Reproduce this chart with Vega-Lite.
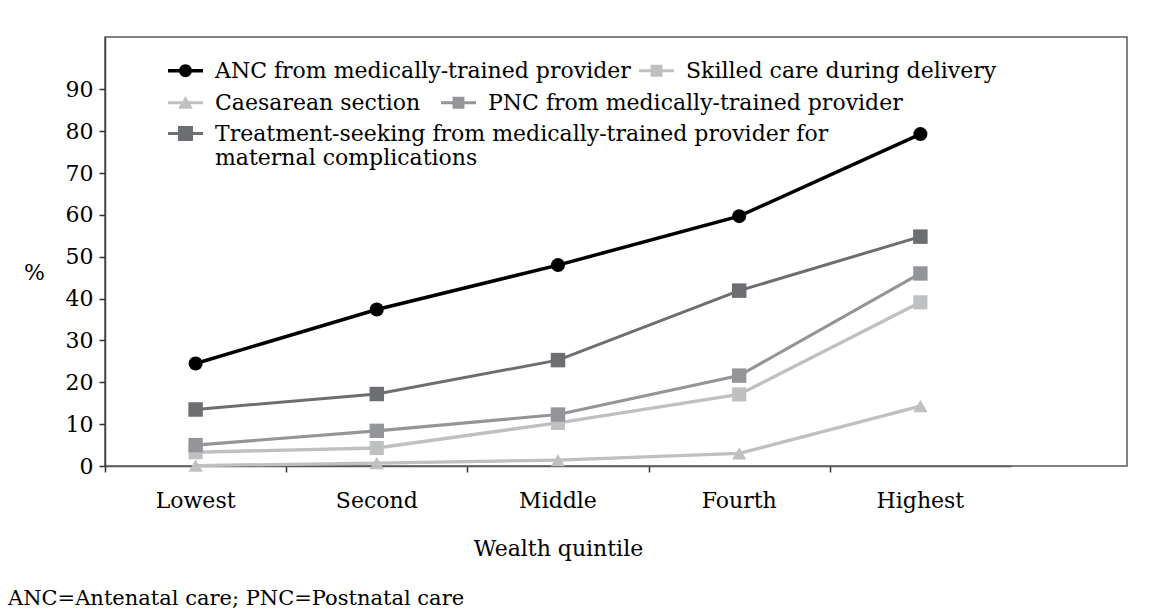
{
  "$schema": "https://vega.github.io/schema/vega-lite/v6.json",
  "width": 1022,
  "height": 429,
  "autosize": {"type": "none"},
  "padding": {"left": 105, "top": 37, "right": 35, "bottom": 147},
  "background": "white",
  "config": {
    "font": "DejaVu Serif",
    "view": {"stroke": "#5a5a5a", "strokeWidth": 1.5},
    "axis": {"grid": false, "labelFont": "DejaVu Serif", "titleFont": "DejaVu Serif"},
    "legend": {"labelFont": "DejaVu Serif"}
  },
  "title": {
    "text": "ANC=Antenatal care; PNC=Postnatal care",
    "orient": "bottom",
    "anchor": "start",
    "frame": "group",
    "dx": -97,
    "offset": 29,
    "fontSize": 21,
    "fontWeight": "normal",
    "font": "DejaVu Serif",
    "color": "black"
  },
  "data": {
    "values": [
      {"quintile": "Lowest", "series": "ANC from medically-trained provider", "value": 24.5},
      {"quintile": "Second", "series": "ANC from medically-trained provider", "value": 37.4},
      {"quintile": "Middle", "series": "ANC from medically-trained provider", "value": 48.0},
      {"quintile": "Fourth", "series": "ANC from medically-trained provider", "value": 59.7},
      {"quintile": "Highest", "series": "ANC from medically-trained provider", "value": 79.3},
      {"quintile": "Lowest", "series": "Skilled care during delivery", "value": 3.3},
      {"quintile": "Second", "series": "Skilled care during delivery", "value": 4.3},
      {"quintile": "Middle", "series": "Skilled care during delivery", "value": 10.3},
      {"quintile": "Fourth", "series": "Skilled care during delivery", "value": 17.1},
      {"quintile": "Highest", "series": "Skilled care during delivery", "value": 39.1},
      {"quintile": "Lowest", "series": "Caesarean section", "value": 0.1},
      {"quintile": "Second", "series": "Caesarean section", "value": 0.7},
      {"quintile": "Middle", "series": "Caesarean section", "value": 1.4},
      {"quintile": "Fourth", "series": "Caesarean section", "value": 3.0},
      {"quintile": "Highest", "series": "Caesarean section", "value": 14.3},
      {"quintile": "Lowest", "series": "PNC from medically-trained provider", "value": 5.0},
      {"quintile": "Second", "series": "PNC from medically-trained provider", "value": 8.4},
      {"quintile": "Middle", "series": "PNC from medically-trained provider", "value": 12.3},
      {"quintile": "Fourth", "series": "PNC from medically-trained provider", "value": 21.6},
      {"quintile": "Highest", "series": "PNC from medically-trained provider", "value": 46.0},
      {"quintile": "Lowest", "series": "Treatment-seeking from medically-trained provider for maternal complications", "value": 13.5},
      {"quintile": "Second", "series": "Treatment-seeking from medically-trained provider for maternal complications", "value": 17.2},
      {"quintile": "Middle", "series": "Treatment-seeking from medically-trained provider for maternal complications", "value": 25.3},
      {"quintile": "Fourth", "series": "Treatment-seeking from medically-trained provider for maternal complications", "value": 41.9},
      {"quintile": "Highest", "series": "Treatment-seeking from medically-trained provider for maternal complications", "value": 54.8}
    ]
  },
  "encoding": {
    "y": {
      "field": "value",
      "type": "quantitative",
      "scale": {"domain": [0, 102.5], "nice": false, "zero": true},
      "axis": {
        "values": [0, 10, 20, 30, 40, 50, 60, 70, 80, 90],
        "title": "%",
        "titleAngle": 0,
        "titleFontSize": 22,
        "titleFontWeight": "normal",
        "titleColor": "black",
        "titleAlign": "center",
        "titleBaseline": "middle",
        "titleX": -71,
        "titleY": 235,
        "labelFontSize": 22,
        "labelColor": "black",
        "labelPadding": 6,
        "tickSize": 6,
        "tickColor": "#303030",
        "tickWidth": 1.5,
        "domainColor": "#404040",
        "domainWidth": 1.5
      }
    }
  },
  "layer": [
    {
      "mark": {"type": "line"},
      "encoding": {
        "x": {
          "field": "quintile",
          "type": "ordinal",
          "sort": ["Lowest", "Second", "Middle", "Fourth", "Highest"],
          "scale": {"type": "band", "range": [0, 906], "paddingInner": 0, "paddingOuter": 0},
          "axis": {
            "orient": "bottom",
            "values": ["Lowest", "Second", "Middle", "Fourth"],
            "labels": false,
            "title": null,
            "tickBand": "extent",
            "tickSize": 6,
            "tickColor": "#303030",
            "tickWidth": 1.5,
            "domainColor": "#5a5a5a",
            "domainWidth": 1.5
          }
        },
        "color": {
          "field": "series",
          "type": "nominal",
          "scale": {
            "domain": ["ANC from medically-trained provider", "Skilled care during delivery", "Caesarean section", "PNC from medically-trained provider", "Treatment-seeking from medically-trained provider for maternal complications"],
            "range": ["#000000", "#bfc0c2", "#bfc0c2", "#939598", "#6d6e71"]
          },
          "legend": null
        },
        "strokeWidth": {
          "field": "series",
          "type": "nominal",
          "scale": {
            "domain": ["ANC from medically-trained provider", "Skilled care during delivery", "Caesarean section", "PNC from medically-trained provider", "Treatment-seeking from medically-trained provider for maternal complications"],
            "range": [3.5, 3, 3, 3, 3]
          },
          "legend": null
        }
      }
    },
    {
      "mark": {"type": "point", "filled": true, "opacity": 1, "strokeWidth": 0},
      "encoding": {
        "x": {
          "field": "quintile",
          "type": "ordinal",
          "sort": ["Lowest", "Second", "Middle", "Fourth", "Highest"],
          "axis": {
            "orient": "bottom",
            "title": "Wealth quintile",
            "titleFontSize": 22,
            "titleFontWeight": "normal",
            "titleColor": "black",
            "titleBaseline": "middle",
            "titleY": 82,
            "labelAngle": 0,
            "labelFontSize": 22,
            "labelColor": "black",
            "labelBaseline": "top",
            "labelPadding": 24,
            "ticks": false,
            "domain": false
          }
        },
        "color": {"field": "series", "type": "nominal", "legend": null},
        "shape": {
          "field": "series",
          "type": "nominal",
          "scale": {
            "domain": ["ANC from medically-trained provider", "Skilled care during delivery", "Caesarean section", "PNC from medically-trained provider", "Treatment-seeking from medically-trained provider for maternal complications"],
            "range": ["circle", "square", "triangle-up", "square", "square"]
          },
          "legend": null
        },
        "size": {
          "field": "series",
          "type": "nominal",
          "scale": {
            "domain": ["ANC from medically-trained provider", "Skilled care during delivery", "Caesarean section", "PNC from medically-trained provider", "Treatment-seeking from medically-trained provider for maternal complications"],
            "range": [196, 210, 256, 150, 300]
          },
          "legend": null
        }
      }
    },
    {
      "mark": {"type": "point", "filled": true, "opacity": 0, "size": 1225},
      "encoding": {
        "x": {"field": "quintile", "type": "ordinal", "sort": ["Lowest", "Second", "Middle", "Fourth", "Highest"], "axis": null},
        "color": {
          "field": "series", "type": "nominal",
          "legend": {
            "values": ["ANC from medically-trained provider", "Skilled care during delivery"],
            "title": null, "orient": "none", "legendX": 63, "legendY": 16, "direction": "horizontal",
            "columnPadding": 8, "symbolSize": 1225, "symbolStrokeWidth": 0, "symbolOpacity": 1,
            "labelFont": "DejaVu Serif", "labelFontSize": 22, "labelColor": "black",
            "labelOffset": 12, "labelLimit": 2000, "padding": 0
          }
        },
        "shape": {
          "field": "series", "type": "nominal",
          "scale": {
            "domain": ["ANC from medically-trained provider", "Skilled care during delivery", "Caesarean section", "PNC from medically-trained provider", "Treatment-seeking from medically-trained provider for maternal complications"],
            "range": [
              "M-1,-0.1 L1,-0.1 L1,0.1 L-1,0.1 Z M-0.37,0 A0.37,0.37 0 1,1 0.37,0 A0.37,0.37 0 1,1 -0.37,0 Z",
              "M-1,-0.085 L1,-0.085 L1,0.085 L-1,0.085 Z M-0.34,-0.34 L0.34,-0.34 L0.34,0.34 L-0.34,0.34 Z",
              "M-1,-0.085 L1,-0.085 L1,0.085 L-1,0.085 Z M0,-0.38 L0.42,0.34 L-0.42,0.34 Z",
              "M-1,-0.085 L1,-0.085 L1,0.085 L-1,0.085 Z M-0.34,-0.34 L0.34,-0.34 L0.34,0.34 L-0.34,0.34 Z",
              "M-1,-0.085 L1,-0.085 L1,0.085 L-1,0.085 Z M-0.43,-0.43 L0.43,-0.43 L0.43,0.43 L-0.43,0.43 Z"
            ]
          },
          "legend": {
            "values": ["ANC from medically-trained provider", "Skilled care during delivery"],
            "title": null, "orient": "none", "legendX": 63, "legendY": 16, "direction": "horizontal",
            "columnPadding": 8, "symbolSize": 1225, "symbolStrokeWidth": 0, "symbolOpacity": 1,
            "labelFont": "DejaVu Serif", "labelFontSize": 22, "labelColor": "black",
            "labelOffset": 12, "labelLimit": 2000, "padding": 0
          }
        }
      }
    },
    {
      "mark": {"type": "point", "filled": true, "opacity": 0, "size": 1225},
      "encoding": {
        "x": {"field": "quintile", "type": "ordinal", "sort": ["Lowest", "Second", "Middle", "Fourth", "Highest"], "axis": null},
        "color": {
          "field": "series", "type": "nominal",
          "legend": {
            "values": ["Caesarean section", "PNC from medically-trained provider"],
            "title": null, "orient": "none", "legendX": 63, "legendY": 48, "direction": "horizontal",
            "columnPadding": 20, "symbolSize": 1225, "symbolStrokeWidth": 0, "symbolOpacity": 1,
            "labelFont": "DejaVu Serif", "labelFontSize": 22, "labelColor": "black",
            "labelOffset": 12, "labelLimit": 2000, "padding": 0
          }
        },
        "shape": {
          "field": "series", "type": "nominal",
          "scale": {
            "domain": ["ANC from medically-trained provider", "Skilled care during delivery", "Caesarean section", "PNC from medically-trained provider", "Treatment-seeking from medically-trained provider for maternal complications"],
            "range": [
              "M-1,-0.1 L1,-0.1 L1,0.1 L-1,0.1 Z M-0.37,0 A0.37,0.37 0 1,1 0.37,0 A0.37,0.37 0 1,1 -0.37,0 Z",
              "M-1,-0.085 L1,-0.085 L1,0.085 L-1,0.085 Z M-0.34,-0.34 L0.34,-0.34 L0.34,0.34 L-0.34,0.34 Z",
              "M-1,-0.085 L1,-0.085 L1,0.085 L-1,0.085 Z M0,-0.38 L0.42,0.34 L-0.42,0.34 Z",
              "M-1,-0.085 L1,-0.085 L1,0.085 L-1,0.085 Z M-0.34,-0.34 L0.34,-0.34 L0.34,0.34 L-0.34,0.34 Z",
              "M-1,-0.085 L1,-0.085 L1,0.085 L-1,0.085 Z M-0.43,-0.43 L0.43,-0.43 L0.43,0.43 L-0.43,0.43 Z"
            ]
          },
          "legend": {
            "values": ["Caesarean section", "PNC from medically-trained provider"],
            "title": null, "orient": "none", "legendX": 63, "legendY": 48, "direction": "horizontal",
            "columnPadding": 20, "symbolSize": 1225, "symbolStrokeWidth": 0, "symbolOpacity": 1,
            "labelFont": "DejaVu Serif", "labelFontSize": 22, "labelColor": "black",
            "labelOffset": 12, "labelLimit": 2000, "padding": 0
          }
        }
      }
    },
    {
      "mark": {"type": "point", "filled": true, "opacity": 0, "size": 1225},
      "encoding": {
        "x": {"field": "quintile", "type": "ordinal", "sort": ["Lowest", "Second", "Middle", "Fourth", "Highest"], "axis": null},
        "color": {
          "field": "series", "type": "nominal",
          "legend": {
            "values": ["Treatment-seeking from medically-trained provider for maternal complications"],
            "title": null, "orient": "none", "legendX": 63, "legendY": 79, "direction": "horizontal",
            "columnPadding": 8, "symbolSize": 1225, "symbolStrokeWidth": 0, "symbolOpacity": 1,
            "labelFont": "DejaVu Serif", "labelFontSize": 22, "labelColor": "black",
            "labelOffset": 12, "labelLimit": 2000, "padding": 0,
            "labelExpr": "datum.label == 'Treatment-seeking from medically-trained provider for maternal complications' ? ['Treatment-seeking from medically-trained provider for', 'maternal complications'] : datum.label"
          }
        },
        "shape": {
          "field": "series", "type": "nominal",
          "scale": {
            "domain": ["ANC from medically-trained provider", "Skilled care during delivery", "Caesarean section", "PNC from medically-trained provider", "Treatment-seeking from medically-trained provider for maternal complications"],
            "range": [
              "M-1,-0.1 L1,-0.1 L1,0.1 L-1,0.1 Z M-0.37,0 A0.37,0.37 0 1,1 0.37,0 A0.37,0.37 0 1,1 -0.37,0 Z",
              "M-1,-0.085 L1,-0.085 L1,0.085 L-1,0.085 Z M-0.34,-0.34 L0.34,-0.34 L0.34,0.34 L-0.34,0.34 Z",
              "M-1,-0.085 L1,-0.085 L1,0.085 L-1,0.085 Z M0,-0.38 L0.42,0.34 L-0.42,0.34 Z",
              "M-1,-0.085 L1,-0.085 L1,0.085 L-1,0.085 Z M-0.34,-0.34 L0.34,-0.34 L0.34,0.34 L-0.34,0.34 Z",
              "M-1,-0.085 L1,-0.085 L1,0.085 L-1,0.085 Z M-0.43,-0.43 L0.43,-0.43 L0.43,0.43 L-0.43,0.43 Z"
            ]
          },
          "legend": {
            "values": ["Treatment-seeking from medically-trained provider for maternal complications"],
            "title": null, "orient": "none", "legendX": 63, "legendY": 79, "direction": "horizontal",
            "columnPadding": 8, "symbolSize": 1225, "symbolStrokeWidth": 0, "symbolOpacity": 1,
            "labelFont": "DejaVu Serif", "labelFontSize": 22, "labelColor": "black",
            "labelOffset": 12, "labelLimit": 2000, "padding": 0,
            "labelExpr": "datum.label == 'Treatment-seeking from medically-trained provider for maternal complications' ? ['Treatment-seeking from medically-trained provider for', 'maternal complications'] : datum.label"
          }
        }
      }
    }
  ],
  "resolve": {"scale": {"shape": "independent"}, "axis": {"x": "independent"}, "legend": {"color": "independent", "shape": "independent"}}
}
